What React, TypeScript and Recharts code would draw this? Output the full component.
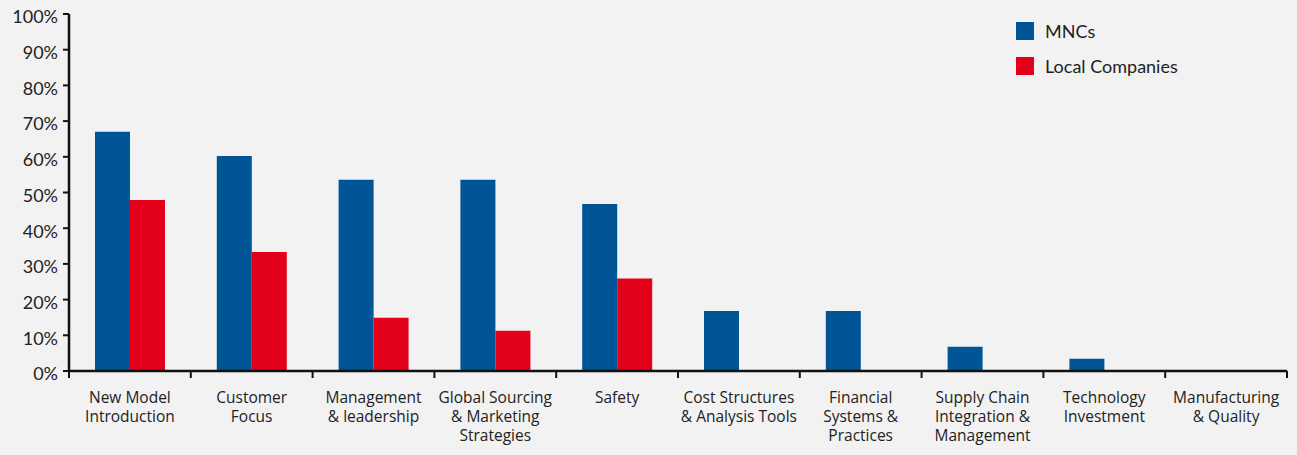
import React from "react";
import { BarChart, Bar, XAxis, YAxis, Legend } from "recharts";

const categories = [
  "New Model Introduction",
  "Customer Focus",
  "Management & leadership",
  "Global Sourcing & Marketing Strategies",
  "Safety",
  "Cost Structures & Analysis Tools",
  "Financial Systems & Practices",
  "Supply Chain Integration & Management",
  "Technology Investment",
  "Manufacturing & Quality",
];

const tickLabelLines: string[][] = [
  ["New Model", "Introduction"],
  ["Customer", "Focus"],
  ["Management", "& leadership"],
  ["Global Sourcing", "& Marketing", "Strategies"],
  ["Safety"],
  ["Cost Structures", "& Analysis Tools"],
  ["Financial", "Systems &", "Practices"],
  ["Supply Chain", "Integration &", "Management"],
  ["Technology", "Investment"],
  ["Manufacturing", "& Quality"],
];

const mncValues = [67, 60.2, 53.6, 53.6, 46.8, 16.8, 16.8, 6.8, 3.4, 0];
const localValues = [47.9, 33.3, 14.9, 11.3, 25.9, 0, 0, 0, 0, 0];

const yTicks = [0, 10, 20, 30, 40, 50, 60, 70, 80, 90, 100];

const data = categories.map((c, i) => ({
  name: c,
  mnc: mncValues[i],
  local: localValues[i],
}));

const W = 1297;
const H = 455;
const Y_AXIS_W = 69;
const X_AXIS_H = 84;
const RIGHT = 10;
const TOP = 14;
const PLOT_BOTTOM = H - X_AXIS_H;
const BAND = (W - Y_AXIS_W - RIGHT) / categories.length;
const FONT = "Lato, 'Open Sans', sans-serif";
const XFONT = "'Open Sans', Lato, sans-serif";

const XTick = (props: any) => {
  const { x, payload, index } = props;
  const i = typeof index === "number" ? index : categories.indexOf(payload.value);
  const lines = tickLabelLines[i] || [payload.value];
  const left = x - BAND / 2;
  return (
    <g>
      <line x1={left} x2={left} y1={PLOT_BOTTOM} y2={PLOT_BOTTOM + 7} stroke="#111" strokeWidth={2} />
      {i === categories.length - 1 && (
        <line x1={x + BAND / 2} x2={x + BAND / 2} y1={PLOT_BOTTOM} y2={PLOT_BOTTOM + 7} stroke="#111" strokeWidth={2} />
      )}
      {lines.map((l, k) => (
        <text
          key={k}
          x={x}
          y={PLOT_BOTTOM + 32 + k * 19}
          textAnchor="middle"
          fill="#222"
          fontSize={15.5}
          fontFamily={XFONT}
        >
          {l}
        </text>
      ))}
    </g>
  );
};

const LegendContent = () => {
  const items = [
    { label: "MNCs", color: "#005596" },
    { label: "Local Companies", color: "#e2001a" },
  ];
  return (
    <div style={{ fontFamily: FONT, fontSize: 18, color: "#222" }}>
      {items.map((it) => (
        <div key={it.label} style={{ display: "flex", alignItems: "center", height: 35 }}>
          <div style={{ width: 18, height: 18, background: it.color, marginRight: 11 }} />
          <span>{it.label}</span>
        </div>
      ))}
    </div>
  );
};

export default function App() {
  return (
    <div style={{ position: "absolute", left: 0, top: 0, width: W, height: H, background: "#f2f2f2" }}>
      <BarChart
        width={W}
        height={H}
        data={data}
        margin={{ top: TOP, right: RIGHT, left: 0, bottom: 0 }}
        barGap={0}
        barSize={35}
        style={{ fontFamily: FONT }}
      >
        <XAxis
          dataKey="name"
          height={X_AXIS_H}
          interval={0}
          tickLine={false}
          axisLine={{ stroke: "#111", strokeWidth: 2.5 }}
          tick={<XTick />}
        />
        <YAxis
          width={Y_AXIS_W}
          domain={[0, 100]}
          ticks={yTicks}
          interval={0}
          tickFormatter={(v: number) => `${v}%`}
          axisLine={{ stroke: "#111", strokeWidth: 2.5 }}
          tickLine={{ stroke: "#111", strokeWidth: 2 }}
          tickSize={6}
          tickMargin={5}
          tick={{ fill: "#222", fontSize: 18, fontFamily: FONT, dy: 3 }}
        />
        <Legend
          layout="horizontal"
          verticalAlign="middle"
          align="center"
          content={<LegendContent />}
          wrapperStyle={{ position: "absolute", top: 13, left: 1016, width: 250 }}
        />
        <Bar dataKey="mnc" name="MNCs" fill="#005596" isAnimationActive={false} />
        <Bar dataKey="local" name="Local Companies" fill="#e2001a" isAnimationActive={false} />
      </BarChart>
    </div>
  );
}
